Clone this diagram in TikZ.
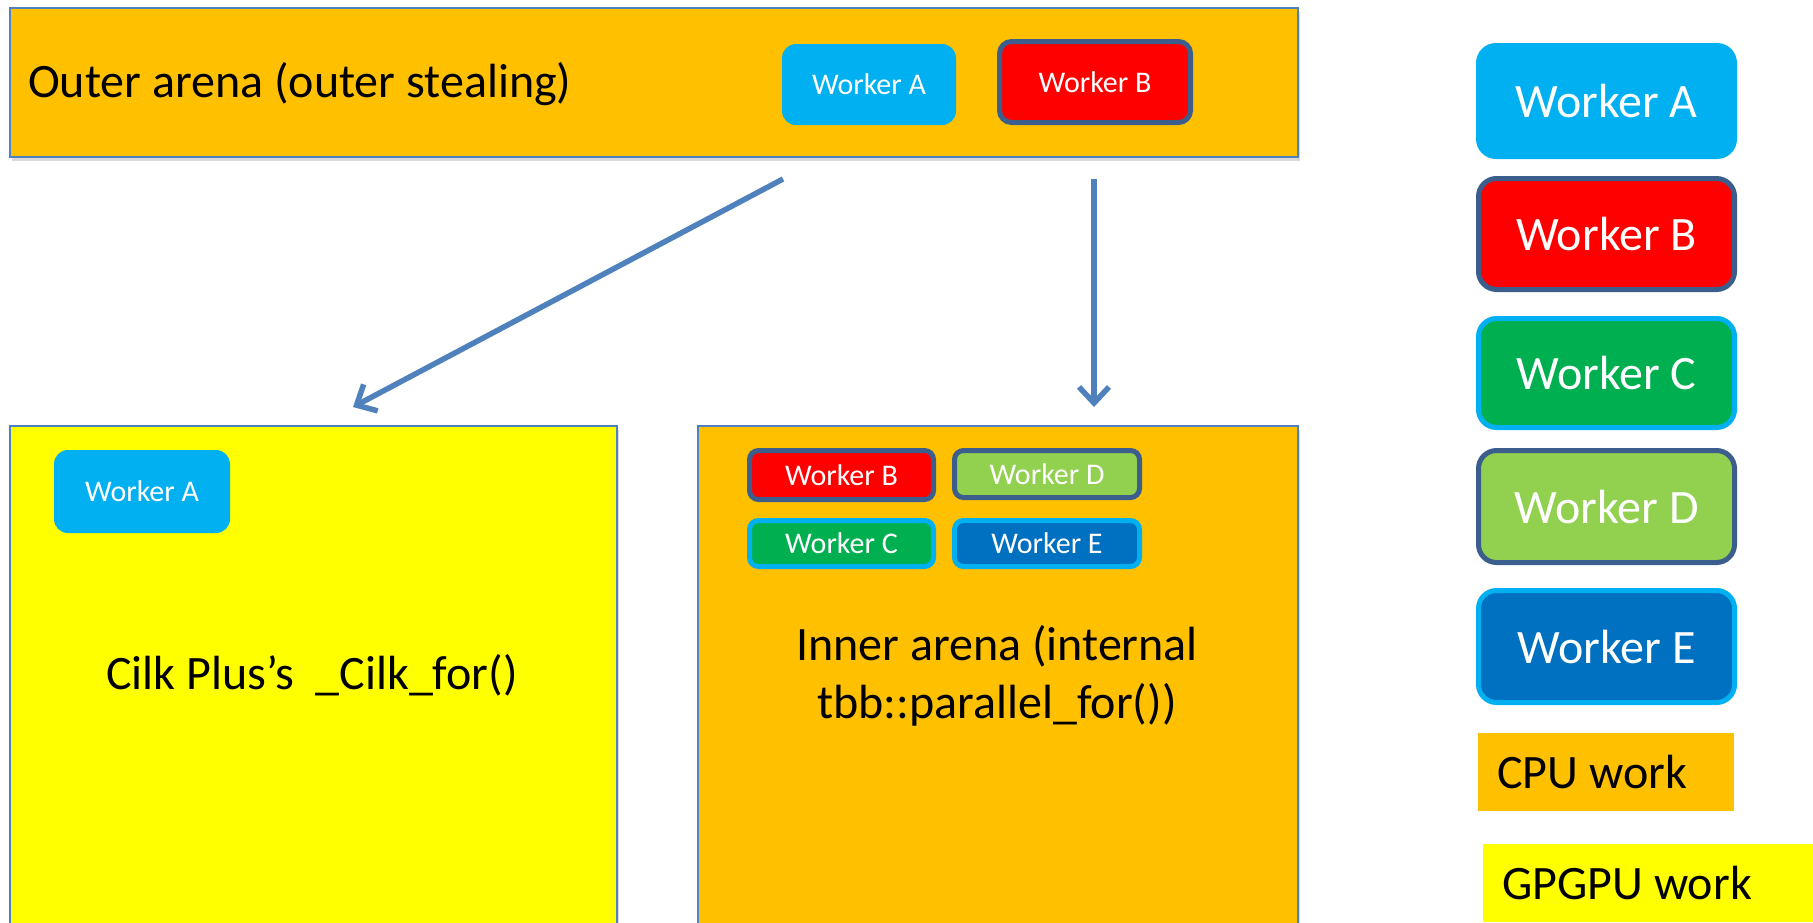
\documentclass[tikz,border=0pt]{standalone}
\usepackage{fontspec}
\setmainfont{Carlito}
\usetikzlibrary{arrows.meta,shadows}
\definecolor{orng}{HTML}{FFC000}
\definecolor{yel}{HTML}{FFFF00}
\definecolor{cyanA}{HTML}{00B0F0}
\definecolor{redB}{HTML}{FF0000}
\definecolor{greenC}{HTML}{00B050}
\definecolor{limeD}{HTML}{92D050}
\definecolor{blueE}{HTML}{0070C0}
\definecolor{navyline}{HTML}{3B5E8C}
\definecolor{arrowblue}{HTML}{4F81BD}
\tikzset{
  arena/.style={draw=arrowblue, line width=1.5pt, inner sep=0pt, anchor=north west,
     drop shadow={shadow xshift=2pt, shadow yshift=-4pt, opacity=0.3}},
  bigtxt/.style={font=\fontsize{48}{58}\selectfont, inner sep=0pt},
  smalltxt/.style={font=\fontsize{30}{36}\selectfont, text=white, inner sep=0pt},
  wkA/.style={fill=cyanA, draw=none},
  wkB/.style={fill=redB, draw=navyline, line width=5pt},
  wkC/.style={fill=greenC, draw=cyanA, line width=5pt},
  wkD/.style={fill=limeD, draw=navyline, line width=5pt},
  wkE/.style={fill=blueE, draw=cyanA, line width=5pt},
  conn/.style={draw=arrowblue, line width=5.5pt, -{Straight Barb[length=16pt,width=30pt]}},
}
\begin{document}
\begin{tikzpicture}[x=1pt,y=-1pt]
\useasboundingbox (0,0) rectangle (1813,922);
% arenas
\node[arena, fill=orng, minimum width=1288pt, minimum height=149pt] (outer) at (9,7) {};
\node[arena, fill=yel, minimum width=607pt, minimum height=510pt] (cilk) at (9,425) {};
\node[arena, fill=orng, minimum width=600pt, minimum height=510pt] (inner) at (697,425) {};
% outer arena content
\node[bigtxt, anchor=west] (outertxt) at (28,84) {Outer arena (outer stealing)};
\node[wkA, rounded corners=14pt, minimum width=174pt, minimum height=81pt, smalltxt] (oA) at (869,84.5) {Worker A};
\node[wkB, rounded corners=12pt, minimum width=191pt, minimum height=81pt, smalltxt] (oB) at (1095,82) {Worker B};
% cilk content
\node[wkA, rounded corners=14pt, minimum width=176pt, minimum height=83pt, smalltxt] (cA) at (142,491.5) {Worker A};
\node[bigtxt] (cilktxt) at (312,675) {Cilk Plus’s\ \ \_Cilk\_for()};
% inner content
\node[wkB, rounded corners=9pt, minimum width=184pt, minimum height=49pt, smalltxt] (iB) at (841.5,475) {Worker B};
\node[wkD, rounded corners=9pt, minimum width=185pt, minimum height=47pt, smalltxt] (iD) at (1047,474) {Worker D};
\node[wkC, rounded corners=9pt, minimum width=184pt, minimum height=46pt, smalltxt] (iC) at (841.5,543.5) {Worker C};
\node[wkE, rounded corners=9pt, minimum width=185pt, minimum height=46pt, smalltxt] (iE) at (1047,543.5) {Worker E};
\node[bigtxt, align=center] (innertxt) at (997,676) {Inner arena (internal\\tbb::parallel\_for())};
% arrows
\coordinate (s1) at (783,179);
\coordinate (e1) at (353,407);
\coordinate (s2) at (1094,179);
\coordinate (e2) at (1094,407);
\draw[conn] (s1) -- (e1);
\draw[conn] (s2) -- (e2);
% legend
\node[wkA, rounded corners=20pt, minimum width=261pt, minimum height=116pt, bigtxt, text=white] (lA) at (1606.5,101) {Worker A};
\node[wkB, rounded corners=18pt, minimum width=256pt, minimum height=111pt, bigtxt, text=white] (lB) at (1606.5,234) {Worker B};
\node[wkC, rounded corners=18pt, minimum width=256pt, minimum height=109pt, bigtxt, text=white] (lC) at (1606.5,373) {Worker C};
\node[wkD, rounded corners=18pt, minimum width=256pt, minimum height=112pt, bigtxt, text=white] (lD) at (1606.5,506.5) {Worker D};
\node[wkE, rounded corners=18pt, minimum width=256pt, minimum height=112pt, bigtxt, text=white] (lE) at (1606.5,646.5) {Worker E};
\fill[orng] (1478,733) rectangle (1734,811);
\node[bigtxt, anchor=west] (cpu) at (1497,772) {CPU work};
\fill[yel] (1483,844) rectangle (1813,922);
\node[bigtxt, anchor=west] (gpgpu) at (1502,883) {GPGPU work};
\end{tikzpicture}
\end{document}
